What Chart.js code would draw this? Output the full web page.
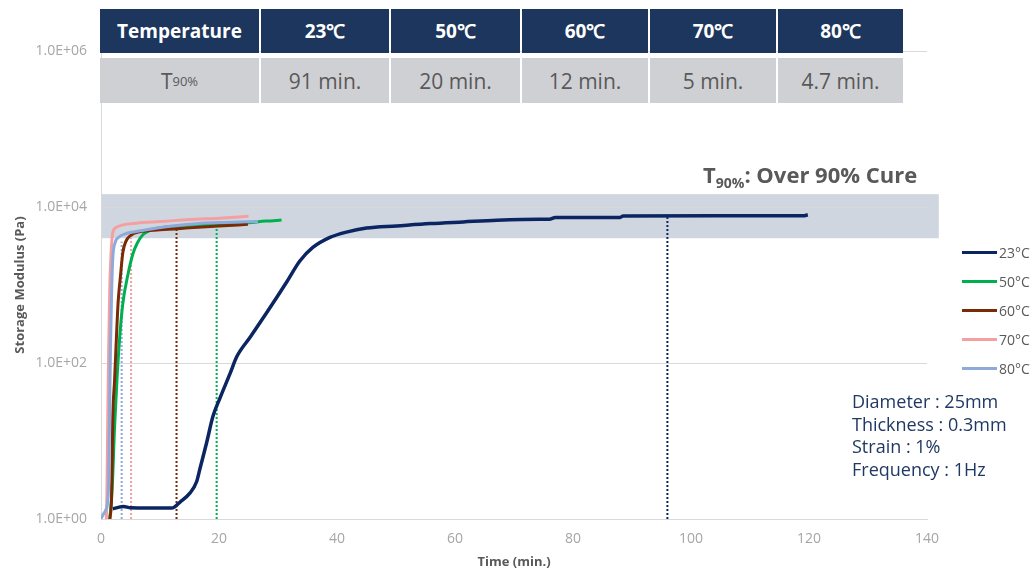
<!DOCTYPE html>
<html>
<head>
<meta charset="utf-8">
<script src="https://cdn.jsdelivr.net/npm/chart.js@4.4.1/dist/chart.umd.min.js"></script>
<style>
  body { margin: 0; background: #fff; }
  #wrap { position: relative; width: 1034px; height: 574px; overflow: hidden; font-family: "Open Sans", sans-serif; }
  #chart { position: absolute; left: 0; top: 0; }
  .cell { position: absolute; display: flex; align-items: center; justify-content: center; box-sizing: border-box; }
  .hd { top: 9px; height: 44px; background: #1d365e; color: #fff; font-weight: bold; font-size: 19px; }
  .vl { top: 58px; height: 45px; background: #cfd0d4; color: #595959; font-size: 21px; }
  .vl sub { font-size: 13px; vertical-align: -4px; }
  #cureTitle { position: absolute; left: 703px; top: 161px; font-weight: bold; font-size: 22px; color: #595959; white-space: nowrap; line-height: 26px; }
  #cureTitle sub { font-size: 14px; vertical-align: -5px; }
  #conditions { position: absolute; left: 852px; top: 390px; font-size: 18px; line-height: 22.5px; color: #1f3864; white-space: nowrap; }
  .lg { position: absolute; left: 962px; height: 20px; display: flex; align-items: center; font-size: 14px; color: #595959; }
  .lg i { display: block; width: 35px; height: 3px; margin-right: 2px; }
</style>
</head>
<body>
<div id="wrap">
  <canvas id="chart" width="1034" height="574"></canvas>
  <div id="table"></div>
  <div id="cureTitle">T<sub>90%</sub>: Over 90% Cure</div>
  <div id="conditions"></div>
  <div id="legend"></div>
</div>
<script>
// Cure temperatures and their T90 times
const temperatures = ['23°C', '50°C', '60°C', '70°C', '80°C'];
const t90Text = ['91 min.', '20 min.', '12 min.', '5 min.', '4.7 min.'];
const seriesColors = ['#0b2562', '#00b050', '#7a2a05', '#f4a0a0', '#8eaadb'];

// Storage modulus (Pa) vs time (min.) for each cure temperature
const time23 = [2.0, 2.8, 3.8, 5.0, 8.0, 12.0, 13.4, 15.1, 16.2, 16.8, 17.9, 19.0, 20.2, 21.9, 23.0, 25.3, 28.1, 31.5, 33.7, 35.9, 38.8, 41.6, 45.0, 50.1, 55.8, 61.4, 67.1, 74.4, 76.0, 77.0, 88.0, 88.5, 119.0, 119.8];
const mod23  = [1.35, 1.40, 1.45, 1.39, 1.38, 1.38, 1.65, 2.16, 3.0, 4.5, 9.5, 21, 36, 74, 120, 215, 443, 1100, 2030, 3030, 4080, 4770, 5370, 5720, 6130, 6440, 6760, 6970, 6980, 7330, 7360, 7690, 7700, 7940];

const time50 = [1.5, 1.9, 2.3, 2.7, 3.2, 3.7, 4.6, 5.4, 6.2, 7.1, 8.5, 10, 15, 20, 25, 28, 30.6];
const mod50  = [1.0, 2.5, 15, 60, 230, 580, 1400, 2500, 3500, 4400, 5100, 5400, 5700, 5900, 6300, 6600, 6800];

const time60 = [1.5, 1.8, 2.0, 2.3, 2.6, 2.9, 3.3, 3.7, 4.2, 5.0, 6.5, 10, 15, 20, 24.9];
const mod60  = [1.0, 2, 20, 60, 200, 600, 1300, 2600, 3600, 4300, 4800, 5100, 5400, 5700, 6000];

const time70 = [0.9, 1.0, 1.15, 1.3, 1.5, 1.7, 2.0, 2.6, 3.7, 6, 10, 15, 20, 25];
const mod70  = [1.0, 2, 20, 150, 1000, 2500, 4700, 5500, 5900, 6200, 6500, 6900, 7200, 7600];

const time80 = [0, 0.4, 0.8, 1.1, 1.3, 1.45, 1.6, 1.8, 2.0, 2.4, 3.0, 4, 7, 12, 17, 21, 26.6];
const mod80  = [1.0, 1.15, 1.3, 1.6, 3, 20, 150, 800, 2200, 3500, 4100, 4500, 5000, 5700, 6200, 6350, 6500];

// Dotted T90 markers: time and the modulus where each marker stops
const markerTimes = [96, 19.6, 12.8, 5.1, 3.5];
const markerTops  = [7500, 5800, 5200, 4000, 3600];

// Shaded "over 90% cure" modulus range and how far right it runs
const cureBand = [3980, 14600];
const cureBandEnd = 142;

const yTicks = [1, 100, 1e4, 1e6];
const conditions = ['Diameter : 25mm', 'Thickness : 0.3mm', 'Strain : 1%', 'Frequency : 1Hz'];

const seriesTimes = [time23, time50, time60, time70, time80];
const seriesMods = [mod23, mod50, mod60, mod70, mod80];
const drawOrder = [4, 3, 2, 1, 0];

// ---- table above the plot ----
const colEdges = [[100, 159], [261, 128], [391, 129], [522, 126], [650, 126], [778, 125]];
const tableEl = document.getElementById('table');
const headTexts = ['Temperature'].concat(temperatures.map(t => t.replace('°C', '℃')));
const valTexts = ['T<sub>90%</sub>'].concat(t90Text);
colEdges.forEach(([left, width], i) => {
  const h = document.createElement('div');
  h.className = 'cell hd';
  h.style.left = left + 'px'; h.style.width = width + 'px';
  h.textContent = headTexts[i];
  tableEl.appendChild(h);
  const v = document.createElement('div');
  v.className = 'cell vl';
  v.style.left = left + 'px'; v.style.width = width + 'px';
  v.innerHTML = valTexts[i];
  tableEl.appendChild(v);
});

// ---- test conditions ----
document.getElementById('conditions').innerHTML = conditions.map(c => '<div>' + c + '</div>').join('');

// ---- legend ----
const legendEl = document.getElementById('legend');
temperatures.forEach((t, i) => {
  const row = document.createElement('div');
  row.className = 'lg';
  row.style.top = (242 + i * 29) + 'px';
  row.innerHTML = '<i style="background:' + seriesColors[i] + '"></i><span>' + t + '</span>';
  legendEl.appendChild(row);
});

// ---- chart ----
const toPoints = (xs, ys) => xs.map((x, i) => ({ x: x, y: ys[i] }));

const curveSets = temperatures.map((t, i) => ({
  label: t,
  data: toPoints(seriesTimes[i], seriesMods[i]),
  borderColor: seriesColors[i],
  backgroundColor: seriesColors[i],
  borderWidth: i === 0 ? 3.5 : 3,
  pointRadius: 0,
  cubicInterpolationMode: 'monotone',
  order: drawOrder[i]
}));

const markerSets = markerTimes.map((t, i) => ({
  label: temperatures[i] + ' T90',
  data: [{ x: t, y: 1 }, { x: t, y: markerTops[i] }],
  borderColor: seriesColors[i],
  borderWidth: 2,
  borderDash: [2, 2],
  pointRadius: 0,
  order: 10 + i
}));

const bandPlugin = {
  id: 'cureBand',
  beforeDraw(chart) {
    const { ctx, scales: { x, y } } = chart;
    const x0 = x.getPixelForValue(0), x1 = x.getPixelForValue(cureBandEnd);
    const yTop = y.getPixelForValue(cureBand[1]), yBot = y.getPixelForValue(cureBand[0]);
    ctx.save();
    ctx.fillStyle = '#d0d6df';
    ctx.fillRect(x0, yTop, x1 - x0, yBot - yTop);
    ctx.restore();
  }
};

Chart.defaults.font.family = "'Open Sans', sans-serif";

new Chart(document.getElementById('chart'), {
  type: 'line',
  data: { datasets: curveSets.concat(markerSets) },
  options: {
    responsive: false,
    animation: false,
    layout: { padding: { top: 51, right: 107, left: 0, bottom: 0 } },
    plugins: { legend: { display: false }, tooltip: { enabled: false } },
    scales: {
      x: {
        type: 'linear', min: 0, max: 140,
        ticks: { stepSize: 20, padding: 12, color: '#a6a6a6', font: { size: 14 } },
        grid: { display: false, drawTicks: false },
        border: { color: '#d9d9d9' },
        title: { display: true, text: 'Time (min.)', color: '#595959', font: { size: 13, weight: 'bold' }, padding: { top: 0, bottom: 4 } },
        afterFit(s) { s.height = 55; }
      },
      y: {
        type: 'logarithmic', min: 1, max: 1e6,
        afterBuildTicks(s) { s.ticks = yTicks.map(v => ({ value: v })); },
        ticks: {
          padding: 14, color: '#a6a6a6', font: { size: 14 },
          callback: v => '1.0E+' + String(Math.round(Math.log10(v))).padStart(2, '0')
        },
        grid: { color: '#d9d9d9', drawTicks: false },
        border: { color: '#d9d9d9' },
        title: { display: true, text: 'Storage Modulus (Pa)', color: '#595959', font: { size: 13, weight: 'bold' }, padding: { top: 12, bottom: 0 } },
        afterFit(s) { s.width = 101; }
      }
    }
  },
  plugins: [bandPlugin]
});
</script>
</body>
</html>
